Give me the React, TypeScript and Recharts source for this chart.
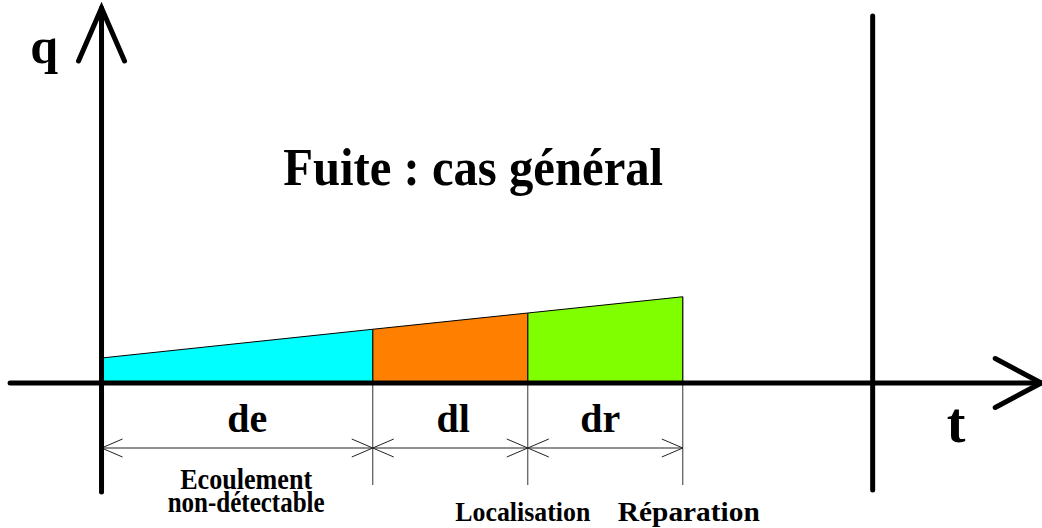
import React from "react";
import { ComposedChart, Area, XAxis, YAxis, ReferenceLine, ReferenceDot } from "recharts";

// phases of a leak: boundaries in time, flow q at each boundary
const phaseNames = ["de", "dl", "dr"];
const phaseColors = ["#00ffff", "#ff8000", "#80ff00"];
const phaseBounds = [0, 7, 11, 15];
const flowAtBounds = [1.0, 2.15, 2.8, 3.45];
const phaseCaptions = [["Ecoulement", "non-détectable"], ["Localisation"], ["Réparation"]];
const endMark = 19.9;
const tAxisRange = [-2.36, 24.25];
const qAxisRange = [-4.36, 15];
const dimLevel = -2.6;
const dimDepth = -4.08;

const W = 1042;
const H = 528;
const FONT = "'Liberation Serif', 'Times New Roman', serif";

// one row per boundary, each phase only defined on its own two bounds
const rows = phaseBounds.map((t, i) => {
  const row: any = { t };
  phaseNames.forEach((name, k) => {
    row[name] = i === k || i === k + 1 ? flowAtBounds[i] : null;
  });
  return row;
});

const arrowShape =
  (width: number, color: string, back: number, spread: number, both: boolean, cap = "round") =>
  (p: any) => {
    const { x1, y1, x2, y2 } = p;
    const d = Math.hypot(x2 - x1, y2 - y1) || 1;
    const ux = (x2 - x1) / d;
    const uy = (y2 - y1) / d;
    const head = (x: number, y: number, sx: number, sy: number) => {
      const bx = x - sx * back;
      const by = y - sy * back;
      const px = -sy * spread;
      const py = sx * spread;
      return (
        <polyline
          points={`${bx + px},${by + py} ${x},${y} ${bx - px},${by - py}`}
          fill="none"
          stroke={color}
          strokeWidth={width}
          strokeLinecap={cap as any}
          strokeLinejoin="miter"
        />
      );
    };
    return (
      <g>
        <line x1={x1} y1={y1} x2={x2} y2={y2} stroke={color} strokeWidth={width} strokeLinecap={cap as any} />
        {head(x2, y2, ux, uy)}
        {both && head(x1, y1, -ux, -uy)}
      </g>
    );
  };

const word =
  (text: string, size: number, length?: number, dx = 0) =>
  (p: any) =>
    (
      <text
        x={p.cx + dx}
        y={p.cy}
        textAnchor="middle"
        fontFamily={FONT}
        fontWeight="bold"
        fontSize={size}
        fill="#000"
        textLength={length}
        lengthAdjust={length ? "spacingAndGlyphs" : undefined}
      >
        {text}
      </text>
    );

export default function App() {
  const mid = (k: number) => (phaseBounds[k] + phaseBounds[k + 1]) / 2;
  const labelShift = [10, 3, -5];

  return (
    <div style={{ position: "absolute", left: 0, top: 0, width: W, height: H, background: "#fff" }}>
      <ComposedChart width={W} height={H} data={rows} margin={{ top: 0, right: 0, bottom: 0, left: 0 }}>
        <XAxis dataKey="t" type="number" domain={[-2.62, 24.27]} hide allowDataOverflow />
        <YAxis type="number" domain={[-5.8, 15.32]} hide allowDataOverflow />

        {phaseNames.map((name, k) => (
          <Area
            key={name}
            dataKey={name}
            type="linear"
            baseValue={0}
            fill={phaseColors[k]}
            fillOpacity={1}
            stroke="#000"
            strokeWidth={1}
            dot={false}
            activeDot={false}
            isAnimationActive={false}
          />
        ))}

        {/* edges of the phases inside the filled area */}
        {phaseBounds.slice(1).map((t, i) => (
          <ReferenceLine
            key={"edge" + t}
            segment={[{ x: t, y: 0 }, { x: t, y: flowAtBounds[i + 1] }]}
            stroke="#000"
            strokeWidth={1.2}
          />
        ))}
        {/* extension lines below the time axis */}
        {phaseBounds.slice(1).map((t) => (
          <ReferenceLine
            key={"ext" + t}
            segment={[{ x: t, y: 0 }, { x: t, y: dimDepth }]}
            stroke="#333"
            strokeWidth={1}
          />
        ))}
        {/* dimension lines */}
        {phaseNames.map((name, k) => (
          <ReferenceLine
            key={"dim" + name}
            segment={[{ x: phaseBounds[k], y: dimLevel }, { x: phaseBounds[k + 1], y: dimLevel }]}
            shape={arrowShape(1, "#222", 21, 9, true, "butt")}
          />
        ))}

        {/* axes */}
        <ReferenceLine
          segment={[{ x: tAxisRange[0], y: 0 }, { x: tAxisRange[1], y: 0 }]}
          shape={arrowShape(5, "#000", 46, 24.5, false)}
        />
        <ReferenceLine
          segment={[{ x: 0, y: qAxisRange[0] }, { x: 0, y: qAxisRange[1] }]}
          shape={arrowShape(5, "#000", 53, 23, false)}
        />
        <ReferenceLine
          segment={[{ x: endMark, y: -4.28 }, { x: endMark, y: 14.68 }]}
          stroke="#000"
          strokeWidth={5}
          strokeLinecap="round"
        />

        {/* texts */}
        <ReferenceDot x={-1.48} y={12.8} r={0} shape={word("q", 50)} />
        <ReferenceDot x={22.05} y={-2.36} r={0} shape={word("t", 56)} />
        <ReferenceDot x={9.59} y={7.92} r={0} shape={word("Fuite : cas général", 53, 380)} />
        {phaseNames.map((name, k) => (
          <ReferenceDot
            key={"lab" + name}
            x={mid(k)}
            y={-1.96}
            r={0}
            shape={word(name, 40, undefined, labelShift[k])}
          />
        ))}
        <ReferenceDot x={mid(0)} y={-4.24} r={0} shape={word(phaseCaptions[0][0], 29, 132, 9)} />
        <ReferenceDot x={mid(0)} y={-5.16} r={0} shape={word(phaseCaptions[0][1], 29, 157, 9)} />
        <ReferenceDot x={phaseBounds[2]} y={-5.52} r={0} shape={word(phaseCaptions[1][0], 28, 135, -5)} />
        <ReferenceDot x={phaseBounds[3]} y={-5.52} r={0} shape={word(phaseCaptions[2][0], 28, 142, 6)} />
      </ComposedChart>
    </div>
  );
}
